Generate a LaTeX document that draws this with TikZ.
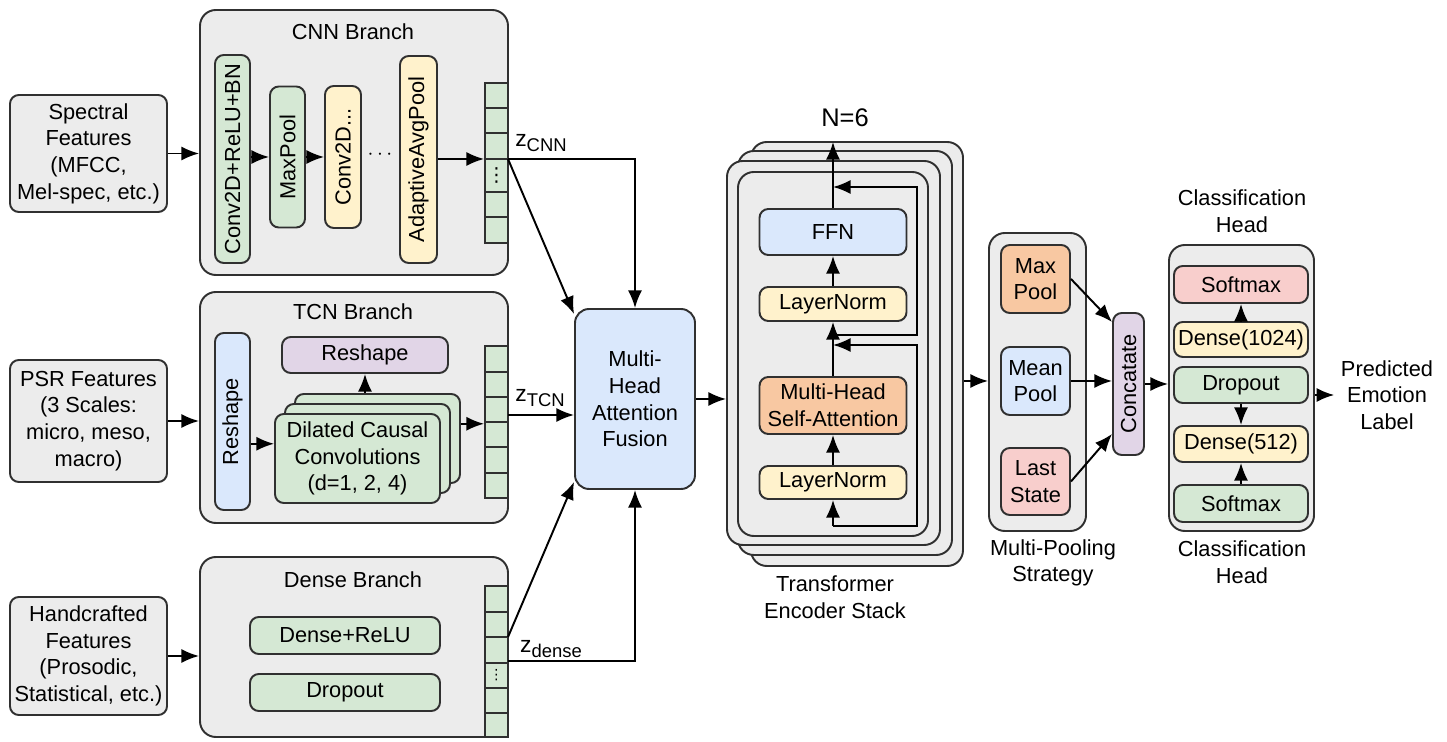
\documentclass[tikz,border=0pt]{standalone}
\usepackage{fontspec}
\setmainfont{Liberation Sans}
\newfontfamily\symfont{DejaVu Sans}
\usepackage{graphicx}
\usetikzlibrary{positioning,calc,arrows.meta}
\definecolor{panelgray}{HTML}{ECECEC}
\definecolor{boxgreen}{HTML}{D5E8D4}
\definecolor{boxyellow}{HTML}{FFF2CC}
\definecolor{boxblue}{HTML}{DAE8FC}
\definecolor{boxorange}{HTML}{F8C8A2}
\definecolor{boxred}{HTML}{F8CECC}
\definecolor{boxpurple}{HTML}{E1D5E7}
\definecolor{edge}{HTML}{303030}
\newlength{\gu}\setlength{\gu}{0.02cm}
\newcommand{\zsub}[1]{{\fontsize{13}{14}\selectfont z}\raisebox{-0.45ex}{\fontsize{10.5}{12}\selectfont #1}}
\tikzset{every node/.style={font=\fontsize{12.4}{15.2}\selectfont,align=center}}
\tikzset{sz/.style 2 args={minimum width=#1\gu,minimum height=#2\gu}}
\tikzset{panel/.style={draw=edge,fill=panelgray,rounded corners=9pt}}
\tikzset{block/.style={draw=edge,rounded corners=5pt,inner sep=1pt}}
\tikzset{vecbox/.style={draw=edge,fill=boxgreen,inner sep=0pt}}
\tikzset{>={Latex[length=10pt,width=8pt]}}

\begin{document}
\begin{tikzpicture}[x=0.02cm,y=-0.02cm,line width=1.1pt]
    \useasboundingbox (0,0) rectangle (1447,742);

    % input features
    \node (Spec) [block,fill=panelgray,sz={157}{117}] at (88.5,153.5) {Spectral\\Features\\(MFCC,\\Mel-spec, etc.)};
    \node (PSR) [block,fill=panelgray,sz={157}{122}] at (88.5,421) {PSR Features\\(3 Scales:\\micro, meso,\\macro)};
    \node (Hand) [block,fill=panelgray,sz={157}{118}] at (88.5,656) {Handcrafted\\Features\\(Prosodic,\\Statistical, etc.)};

    % CNN branch
    \node (CNN) [panel,sz={308}{265}] at (354,142.5) {};
    \node (tCNN) at (353,32) {CNN Branch};
    \node (Conv1) [block,fill=boxgreen,sz={35}{208}] at (232.5,159) {\rotatebox{90}{Conv2D+ReLU+BN}};
    \node (MP) [block,fill=boxgreen,sz={35}{141}] at (287.5,157) {\rotatebox{90}{MaxPool}};
    \node (Conv2) [block,fill=boxyellow,sz={36}{142}] at (343,157) {\rotatebox{90}{Conv2D...}};
    \node (dots) at (380,155) {$\cdots$};
    \node (Pool) [block,fill=boxyellow,sz={37}{207}] at (418.5,159.5) {\rotatebox{90}{AdaptiveAvgPool}};
    \node (vC) [vecbox,sz={23}{160}] at (496.5,163) {};
    \foreach \yy in {108,133,159,192,217} \draw [draw=edge] (485,\yy) -- ++(23,0);
    \node (dC) [inner sep=0pt,font=\symfont\fontsize{11}{12}\selectfont] at (496.5,175.5) {⋮};

    \draw [->] (Spec) -- (Spec -| CNN.west);
    \draw [->] (Conv1.east |- MP) -- (MP);
    \draw [->] (MP) -- (Conv2);
    \coordinate (zC) at (508,159);
    \draw [->] (Pool.east |- zC) -- (zC -| vC.west);

    % TCN branch
    \node (TCN) [panel,sz={308}{231}] at (354,407.5) {};
    \node (tTCN) at (353,312) {TCN Branch};
    \node (RS1) [block,fill=boxblue,sz={35}{177}] at (232.5,421.5) {\rotatebox{90}{Reshape}};
    \node (RS2) [block,fill=boxpurple,sz={166}{36}] at (365,355) {Reshape};
    \node (DCb) [block,fill=boxgreen,sz={165}{89}] at (377.5,438.5) {};
    \node (DCm) [block,fill=boxgreen,sz={165}{89}] at (367.5,448.5) {};
    \node (DCf) [block,fill=boxgreen,sz={165}{89}] at (357.5,458.5) {Dilated Causal\\Convolutions\\(d=1, 2, 4)};
    \node (vT) [vecbox,sz={23}{152}] at (496.5,422) {};
    \foreach \yy in {372,397,422,447,473} \draw [draw=edge] (485,\yy) -- ++(23,0);

    \draw [->] (PSR) -- (PSR -| TCN.west);
    \draw [->] (RS1.east |- DCf.170) -- (DCf.170);
    \draw [->] (DCb.north -| RS2) -- (RS2);
    \draw [->] (DCb.10) -- (DCb.10 -| vT.west);

    % dense branch
    \node (DNS) [panel,sz={308}{180}] at (354,647) {};
    \node (tDNS) at (353,580) {Dense Branch};
    \node (DR) [block,fill=boxgreen,sz={190}{37}] at (345,635.5) {Dense+ReLU};
    \node (DO) [block,fill=boxgreen,sz={190}{37}] at (345,692.5) {Dropout};
    \node (vD) [vecbox,sz={23}{151}] at (496.5,661.5) {};
    \foreach \yy in {612,637,663,688,713} \draw [draw=edge] (485,\yy) -- ++(23,0);
    \node (dD) [inner sep=0pt,font=\symfont\fontsize{8}{9}\selectfont] at (496.5,675.5) {⋮};

    \draw [->] (Hand) -- (Hand -| DNS.west);

    % fusion
    \node (Fus) [block,fill=boxblue,sz={120}{180},rounded corners=8pt] at (635,399) {Multi-\\Head\\Attention\\Fusion};
    \coordinate (zT) at (508,415);
    \coordinate (zD) at (508,661);
    \coordinate (zD2) at (508,637);
    \draw [->] (zC) -| (Fus.north);
    \draw [->] (zC) -- ($(Fus.north west)+(0,6)$);
    \draw [->] (zT) -- (zT -| Fus.west);
    \draw [->] (zD) -| (Fus.south);
    \draw [->] (zD2) -- ($(Fus.south west)+(0,-8)$);
    \node (lC) at (541,143) {\zsub{CNN}};
    \node (lT) at (540,398) {\zsub{TCN}};
    \node (lD) at (551,649) {\zsub{dense}};

    % transformer encoder stack
    \node (L3) [panel,sz={212}{424}] at (857,354) {};
    \node (L2) [panel,sz={214}{404}] at (845,353) {};
    \node (L1) [panel,sz={213}{384}] at (833.5,353) {};
    \node (L0) [panel,sz={190}{364}] at (833,354) {};
    \node (FFN) [block,fill=boxblue,sz={147}{46}] at (833,232) {FFN};
    \node (LN2) [block,fill=boxyellow,sz={147}{34}] at (833,304) {LayerNorm};
    \node (MHSA) [block,fill=boxorange,sz={147}{57}] at (833,405.5) {Multi-Head\\Self-Attention};
    \node (LN1) [block,fill=boxyellow,sz={147}{33}] at (833,482.5) {LayerNorm};
    \node (N) [font=\fontsize{14.5}{16}\selectfont] at (845,118) {N=6};
    \node (tTr) at (835,597) {Transformer\\Encoder Stack};

    \coordinate (tb) at (833,526);
    \coordinate (tt) at (833,142);
    \coordinate (r1) at (833,345);
    \coordinate (r2) at (833,335);
    \coordinate (r3) at (833,187);
    \draw [->] (tb) -- (LN1);
    \draw [->] (LN1) -- (MHSA);
    \draw [->] (MHSA) -- (LN2);
    \draw [->] (LN2) -- (FFN);
    \draw [->] (FFN) -- (tt);
    \draw [->] (tb) -- ++(84,0) |- (r1);
    \draw [->] (r2) -- ++(84,0) |- (r3);

    \draw [->] (Fus) -- (Fus -| L1.west);

    % multi-pooling
    \node (MPS) [panel,sz={97}{298}] at (1037.5,382) {};
    \node (MaxP) [block,fill=boxorange,sz={69}{68}] at (1035.5,279) {Max\\Pool};
    \node (MeanP) [block,fill=boxblue,sz={69}{68}] at (1035.5,381) {Mean\\Pool};
    \node (Last) [block,fill=boxred,sz={69}{67}] at (1035.5,481.5) {Last\\State};
    \node (Cat) [block,fill=boxpurple,sz={31}{142}] at (1128.5,384) {\rotatebox{90}{Concatate}};
    \node (tMPS) at (1053,563) {Multi-Pooling\\Strategy};

    \draw [->] (L3.east |- MeanP) -- (MeanP -| MPS.west);
    \draw [->] (MaxP.east) -- ($(Cat.north west)+(0,10)$);
    \draw [->] (MeanP) -- (MeanP -| Cat.west);
    \draw [->] (Last.east) -- ($(Cat.south west)+(0,-22)$);

    % classification head
    \node (Cls) [panel,sz={145}{286}] at (1241.5,388) {};
    \node (SMr) [block,fill=boxred,sz={134}{37}] at (1241,284.5) {Softmax};
    \node (D1024) [block,fill=boxyellow,sz={134}{35}] at (1241,339.5) {Dense(1024)};
    \node (Drop2) [block,fill=boxgreen,sz={134}{36}] at (1241,385) {Dropout};
    \node (D512) [block,fill=boxyellow,sz={134}{36}] at (1241,444) {Dense(512)};
    \node (SMg) [block,fill=boxgreen,sz={134}{37}] at (1241,503.5) {Softmax};
    \node (tCls1) at (1242,211.5) {Classification\\Head};
    \node (tCls2) at (1242,562.5) {Classification\\Head};
    \node (Out) at (1387,395) {Predicted\\Emotion\\Label};

    \draw [->] (Cat) -- (Cat -| Cls.west);
    \draw [->] (D1024) -- (SMr);
    \draw [->] (Drop2) -- (D512);
    \draw [->] (SMg) -- (D512);
    \draw [->] (Cls.east |- Out) -- (Out.west);
\end{tikzpicture}
\end{document}
